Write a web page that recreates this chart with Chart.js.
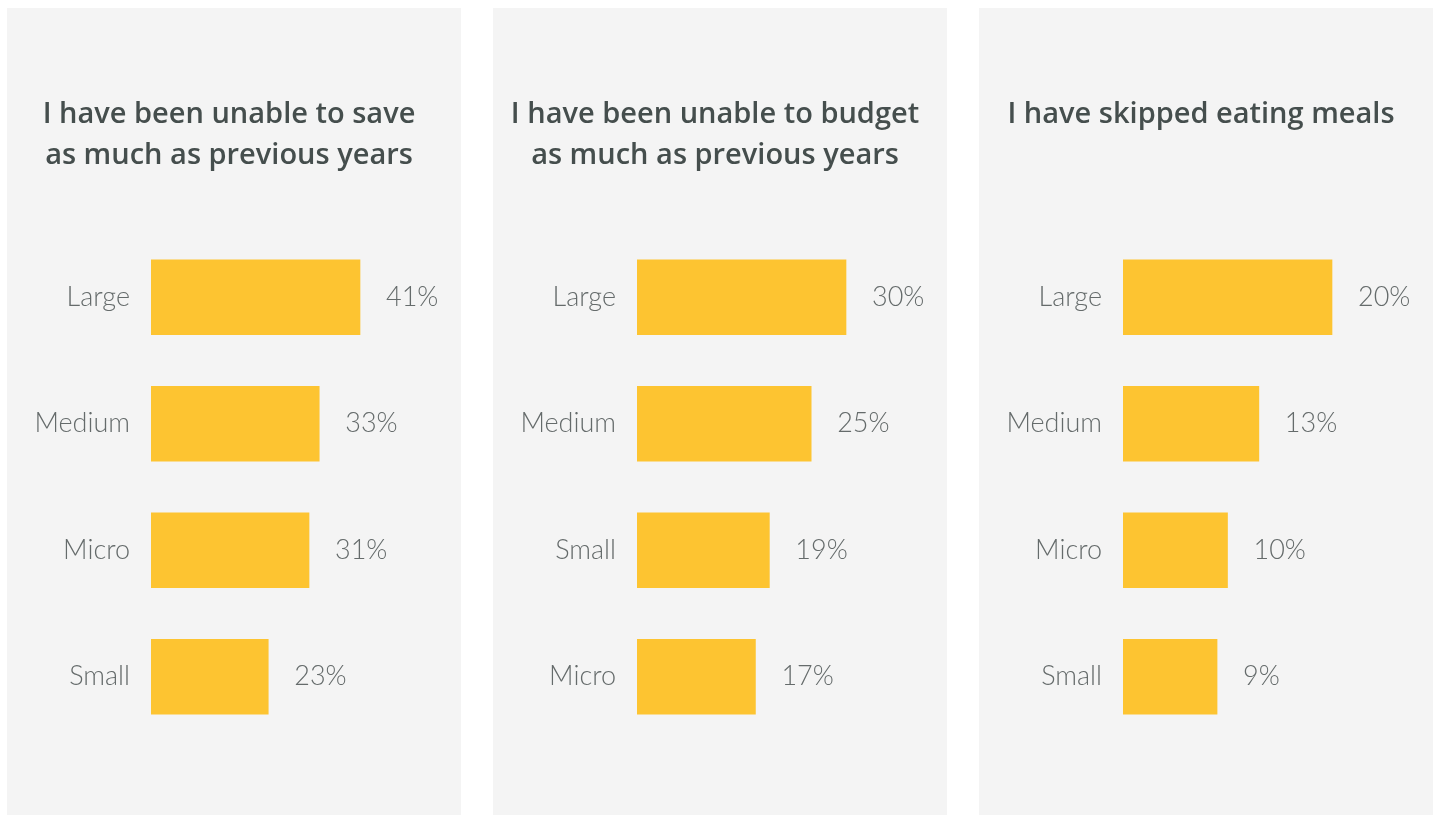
<!DOCTYPE html>
<html>
<head>
<meta charset="utf-8">
<script src="https://cdn.jsdelivr.net/npm/chart.js@4"></script>
<style>
  html, body { margin: 0; padding: 0; background: #ffffff; }
  .panel { position: absolute; top: 8px; width: 454px; height: 807px; background: #f4f4f4; }
  #p1 { left: 7px; }
  #p2 { left: 493px; }
  #p3 { left: 979px; }
</style>
</head>
<body>
<div class="panel" id="p1"><canvas id="c1"></canvas></div>
<div class="panel" id="p2"><canvas id="c2"></canvas></div>
<div class="panel" id="p3"><canvas id="c3"></canvas></div>
<script>
var titles1 = ['I have been unable to save', 'as much as previous years'];
var labels1 = ['Large', 'Medium', 'Micro', 'Small'];
var values1 = [41, 33, 31, 23];

var titles2 = ['I have been unable to budget', 'as much as previous years'];
var labels2 = ['Large', 'Medium', 'Small', 'Micro'];
var values2 = [30, 25, 19, 17];

var titles3 = ['I have skipped eating meals'];
var labels3 = ['Large', 'Medium', 'Micro', 'Small'];
var values3 = [20, 13, 10, 9];

var labelFont = { family: 'Lato', size: 27, weight: '300' };

// prints "NN%" just past the end of each bar
var valueLabels = {
    id: 'valueLabels',
    afterDatasetsDraw: function (chart) {
        var ctx = chart.ctx;
        var meta = chart.getDatasetMeta(0);
        ctx.save();
        ctx.font = '300 27px Lato';
        ctx.fillStyle = '#656b6b';
        ctx.textAlign = 'left';
        ctx.textBaseline = 'middle';
        meta.data.forEach(function (bar, i) {
            ctx.fillText(chart.data.datasets[0].data[i] + '%', bar.x + 26, bar.y);
        });
        ctx.restore();
    }
};

function makeChart(id, title, labels, values) {
    var ctx = document.getElementById(id).getContext('2d');
    // longest bar fills about 70% of the plot width
    var top = Math.max.apply(null, values);
    return new Chart(ctx, {
        type: 'bar',
        data: {
            labels: labels,
            datasets: [{
                data: values,
                backgroundColor: '#fdc431',
                borderWidth: 0,
                barThickness: 75
            }]
        },
        options: {
            indexAxis: 'y',
            responsive: true,
            maintainAspectRatio: false,
            animation: false,
            layout: { padding: { left: 0, right: 10, bottom: 75 } },
            scales: {
                x: {
                    display: false,
                    min: 0,
                    max: top * 300 / 209
                },
                y: {
                    grid: { display: false, drawTicks: false },
                    border: { display: false },
                    ticks: { color: '#656b6b', font: labelFont, padding: 21 },
                    afterFit: function (scale) { scale.width = 144; }
                }
            },
            plugins: {
                legend: { display: false },
                tooltip: { enabled: false },
                title: {
                    display: true,
                    text: title,
                    color: '#454e4d',
                    font: { family: 'Open Sans', size: 29, weight: '600', lineHeight: 41 / 29 },
                    padding: { top: 86, bottom: 58 + (2 - title.length) * 41 }
                }
            }
        },
        plugins: [valueLabels]
    });
}

makeChart('c1', titles1, labels1, values1);
makeChart('c2', titles2, labels2, values2);
makeChart('c3', titles3, labels3, values3);
</script>
</body>
</html>
